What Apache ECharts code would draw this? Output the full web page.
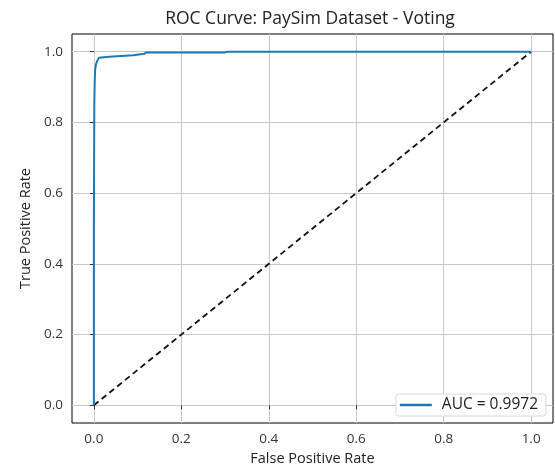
<!DOCTYPE html>
<html>
<head>
<meta charset="utf-8">
<script src="https://cdn.jsdelivr.net/npm/echarts@6/dist/echarts.min.js"></script>
<style>html,body{margin:0;padding:0;background:#fff}#c{width:555px;height:465px}</style>
</head>
<body>
<div id="c"></div>
<script>
// ROC curve points (FPR, TPR)
const rocFpr = [0, 0, 0.001, 0.002, 0.003, 0.005, 0.008, 0.012, 0.016, 0.035, 0.037, 0.09, 0.092, 0.115, 0.12, 0.3, 0.305, 1.0];
const rocTpr = [0, 0.5, 0.85, 0.92, 0.95, 0.965, 0.975, 0.983, 0.986, 0.986, 0.99, 0.99, 0.994, 0.994, 0.998, 0.998, 1.0, 1.0];
const diagX = [0, 1];
const diagY = [0, 1];
const tickValues = [0, 0.2, 0.4, 0.6, 0.8, 1.0];
const legendLabel = 'AUC = 0.9972';
const titleText = 'ROC Curve: PaySim Dataset - Voting';

const rocData = rocFpr.map((x, i) => [x, rocTpr[i]]);
const diagData = diagX.map((x, i) => [x, diagY[i]]);
const font = 'Open Sans';

const chart = echarts.init(document.getElementById('c'), null, {renderer: 'canvas'});
const axisCommon = {
  type: 'value', min: -0.05, max: 1.05,
  axisLine: {show: false},
  axisTick: {show: true, inside: false, length: 4, lineStyle: {color: '#333'}, customValues: tickValues},
  axisLabel: {customValues: tickValues, formatter: v => v.toFixed(1), color: '#333', fontSize: 13.5, fontFamily: font},
  splitLine: {show: true, lineStyle: {color: '#c8c8c8', width: 1}},
  nameLocation: 'middle',
  nameTextStyle: {color: '#222', fontSize: 14.5, fontFamily: font}
};
chart.setOption({
  animation: false,
  title: {text: titleText, left: 310, textAlign: 'center', top: 10, padding: 0,
    textStyle: {fontSize: 17.5, fontWeight: 'normal', color: '#222', fontFamily: font}},
  grid: {left: 72, right: 2, top: 34, bottom: 42, show: true, borderColor: '#000', borderWidth: 1,
    containLabel: false, outerBoundsMode: 'none'},
  legend: {data: [{name: legendLabel, icon: 'rect'}], right: 9, bottom: 49, orient: 'vertical',
    backgroundColor: '#fff', borderColor: '#d8d8d8', borderWidth: 1, borderRadius: 3, padding: [3, 8, 3, 4],
    itemWidth: 32, itemHeight: 2.5, itemGap: 8,
    textStyle: {fontSize: 15.5, color: '#222', fontFamily: font, padding: [0, 0, 0, 5]}},
  xAxis: Object.assign({}, axisCommon, {name: 'False Positive Rate', nameGap: 25,
    axisLabel: Object.assign({}, axisCommon.axisLabel, {margin: 9})}),
  yAxis: Object.assign({}, axisCommon, {name: 'True Positive Rate', nameGap: 39,
    axisLabel: Object.assign({}, axisCommon.axisLabel, {margin: 9})}),
  series: [
    {name: legendLabel, type: 'line', data: rocData, symbol: 'none', z: 3,
      lineStyle: {color: '#1f77b4', width: 2}, itemStyle: {color: '#1f77b4'}},
    {name: 'diag', type: 'line', data: diagData, symbol: 'none', z: 2,
      lineStyle: {color: '#111', width: 1.8, type: [6, 4]}}
  ]
});
</script>
</body>
</html>
